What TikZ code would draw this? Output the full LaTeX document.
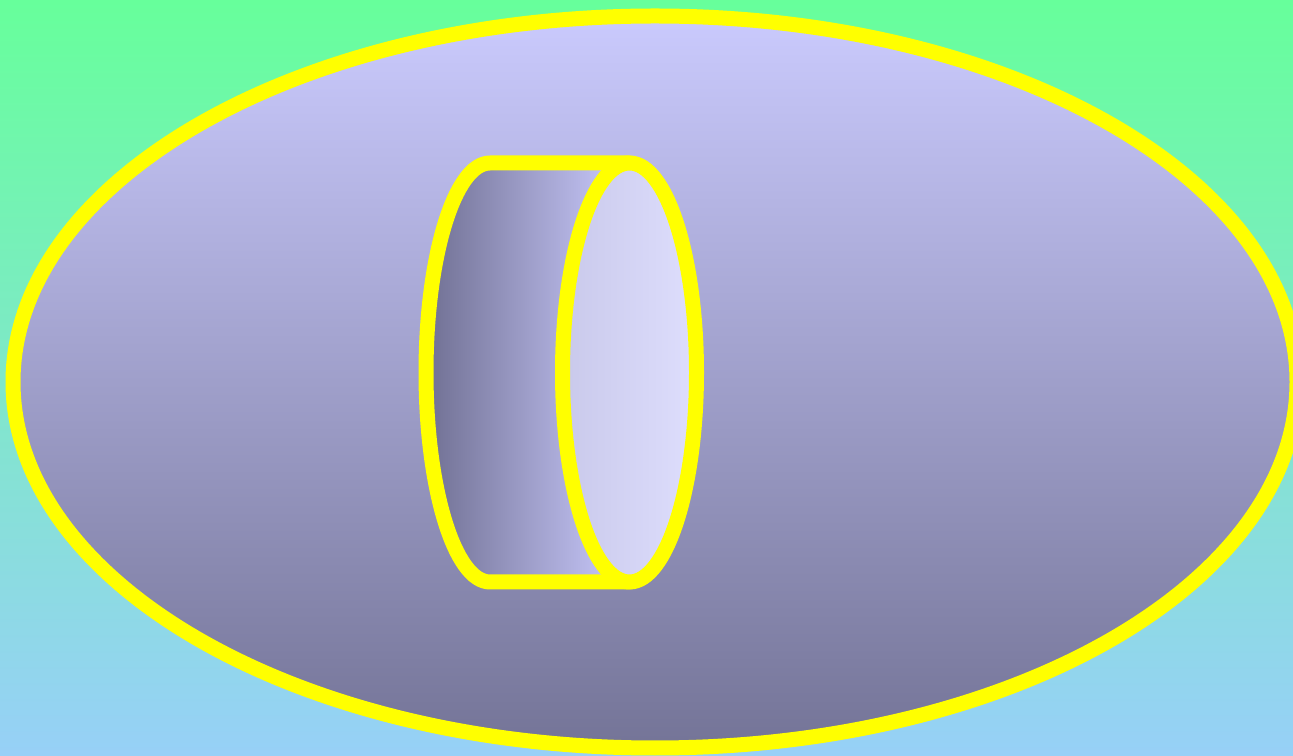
\documentclass[tikz,border=0pt]{standalone}
\definecolor{bgtop}{HTML}{67FF9B}
\definecolor{bgbot}{HTML}{97D0F7}
\definecolor{eltop}{HTML}{CACAFD}
\definecolor{elbot}{HTML}{747497}
\definecolor{bodyl}{HTML}{707093}
\definecolor{bodyr}{HTML}{CCCCFF}
\definecolor{endl}{HTML}{C9C9EB}
\definecolor{endr}{HTML}{DEDEFD}
\definecolor{rim}{HTML}{FFFF00}
\begin{document}
\begin{tikzpicture}[x=1pt,y=1pt,
  rimline/.style={draw=rim,line width=15pt,line join=round,line cap=round}]
\useasboundingbox (0,0) rectangle (1293,755);
\clip (0,0) rectangle (1293,755);
% background
\shade[top color=bgtop,bottom color=bgbot] (0,0) rectangle (1293,755);
% big ellipse
\shade[top color=eltop,bottom color=elbot] (655,373) ellipse[x radius=642,y radius=366];
\draw[rimline] (655,373) ellipse[x radius=642,y radius=366];
% cylinder body
\shade[left color=bodyl,right color=bodyr]
  (490,592) -- (629.5,592) arc[start angle=90,end angle=270,x radius=67,y radius=209.5]
  -- (490,173) arc[start angle=270,end angle=90,x radius=64,y radius=209.5] -- cycle;
\draw[rimline] (629.5,592) -- (490,592) arc[start angle=90,end angle=270,x radius=64,y radius=209.5] -- (629.5,173);
% cylinder end
\shade[left color=endl,right color=endr] (629.5,382.5) ellipse[x radius=67,y radius=209.5];
\draw[rimline] (629.5,382.5) ellipse[x radius=67,y radius=209.5];
\end{tikzpicture}
\end{document}
